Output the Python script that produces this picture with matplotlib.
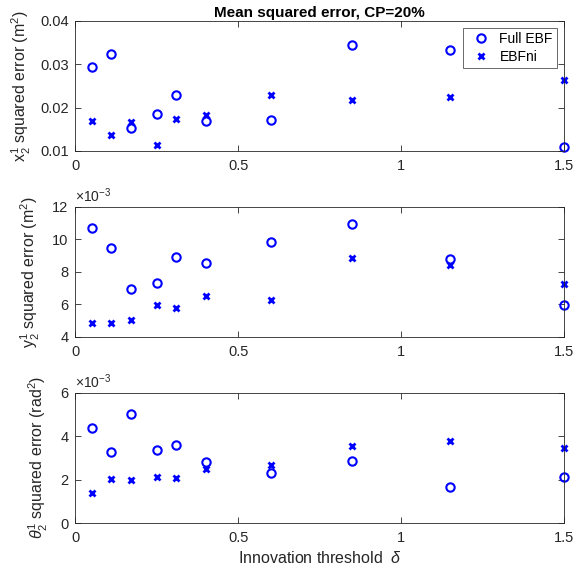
import numpy as np
import matplotlib
matplotlib.use('Agg')
import matplotlib.pyplot as plt

plt.rcParams['font.family'] = ['Liberation Sans', 'DejaVu Sans']
plt.rcParams['mathtext.fontset'] = 'custom'
plt.rcParams['mathtext.rm'] = 'Liberation Sans'
plt.rcParams['mathtext.it'] = 'Liberation Sans:italic'

# innovation threshold values
delta = [0.05, 0.11, 0.17, 0.25, 0.31, 0.4, 0.6, 0.85, 1.15, 1.5]

# x position error (m^2)
x_full = [0.0294, 0.0323, 0.0152, 0.0186, 0.0230, 0.0169, 0.0172, 0.0343, 0.0332, 0.0110]
x_ni = [0.0170, 0.0137, 0.0167, 0.0114, 0.0173, 0.0183, 0.0230, 0.0218, 0.0225, 0.0263]

# y position error (x 1e-3 m^2)
y_full = [10.71, 9.46, 6.93, 7.30, 8.89, 8.52, 9.85, 10.92, 8.77, 5.97]
y_ni = [4.84, 4.86, 5.04, 5.98, 5.78, 6.49, 6.27, 8.85, 8.40, 7.23]

# heading error (x 1e-3 rad^2)
th_full = [4.40, 3.27, 5.03, 3.35, 3.61, 2.81, 2.30, 2.87, 1.66, 2.13]
th_ni = [1.40, 2.03, 1.96, 2.10, 2.06, 2.50, 2.68, 3.54, 3.79, 3.45]

fig = plt.figure(figsize=(5.76, 5.76), dpi=100)
ax1 = fig.add_axes([0.131, 0.738, 0.848, 0.226])
ax2 = fig.add_axes([0.131, 0.415, 0.848, 0.226])
ax3 = fig.add_axes([0.131, 0.092, 0.848, 0.226])

tc = (0.15, 0.15, 0.15)
fs = 10.5

def style(ax, ylim, yticks):
    ax.set_xlim(0, 1.5)
    ax.set_xticks([0, 0.5, 1, 1.5])
    ax.set_xticklabels(['0', '0.5', '1', '1.5'])
    ax.set_ylim(*ylim)
    ax.set_yticks(yticks)
    ax.tick_params(direction='in', top=True, right=True, labelsize=fs,
                   colors=tc, length=4, width=0.6)
    ax.tick_params(axis='x', pad=6)
    ax.tick_params(axis='y', pad=5)
    for s in ax.spines.values():
        s.set_color(tc)
        s.set_linewidth(0.6)

def draw(ax, full, ni):
    ax.plot(delta, full, 'o', color='blue', mfc='none', ms=6, mew=1.5,
            label='Full EBF', clip_on=False)
    ax.plot(delta, ni, 'x', color='blue', ms=4, mew=2,
            label='EBFni', clip_on=False)

draw(ax1, x_full, x_ni)
style(ax1, (0.01, 0.04), [0.01, 0.02, 0.03, 0.04])
ax1.set_yticklabels(['0.01', '0.02', '0.03', '0.04'])
ax1.set_ylabel(r'x$_2^1$ squared error (m$^2$)', fontsize=11.5, color=tc)
ax1.yaxis.set_label_coords(-0.087, 0.5)
ax1.set_title('Mean squared error, CP=20%', fontsize=11, fontweight='bold', pad=3)
leg = ax1.legend(loc='upper right', fontsize=10, frameon=True, fancybox=False,
                 edgecolor=tc, borderaxespad=0.5, handletextpad=0.3,
                 borderpad=0.3, labelspacing=0.3, handlelength=2.0)
leg.get_frame().set_linewidth(0.6)

draw(ax2, y_full, y_ni)
style(ax2, (4, 12), [4, 6, 8, 10, 12])
ax2.set_ylabel(r'y$_2^1$ squared error (m$^2$)', fontsize=11.5, color=tc)
ax2.yaxis.set_label_coords(-0.068, 0.5)
ax2.text(0.0, 1.015, r'$\times$10$^{-3}$', transform=ax2.transAxes, fontsize=10,
         color=tc, va='bottom', ha='left')

draw(ax3, th_full, th_ni)
style(ax3, (0, 6), [0, 2, 4, 6])
ax3.set_ylabel(r'$\theta_2^1$ squared error (rad$^2$)', fontsize=11.5, color=tc)
ax3.yaxis.set_label_coords(-0.052, 0.5)
ax3.text(0.0, 1.015, r'$\times$10$^{-3}$', transform=ax3.transAxes, fontsize=10,
         color=tc, va='bottom', ha='left')
ax3.set_xlabel(r'Innovation threshold  $\delta$', fontsize=11.5, color=tc)
ax3.xaxis.set_label_coords(0.5, -0.21)

fig.savefig('out.png', dpi=100)
